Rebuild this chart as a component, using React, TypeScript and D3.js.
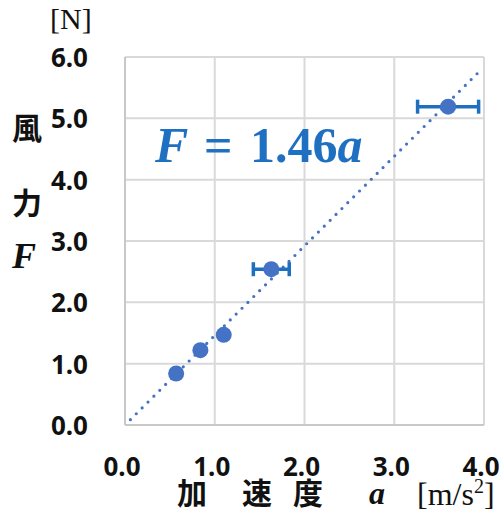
import * as d3 from 'd3';

// measured points: acceleration [m/s^2] vs wind force [N]
const accel = [0.57, 0.84, 1.10, 1.63, 3.60];
const force = [0.84, 1.22, 1.47, 2.54, 5.19];
const accelErr = [0, 0, 0, 0.2, 0.34];
const slope = 1.46;
const xTicks = [0, 1, 2, 3, 4];
const yTicks = [0, 1, 2, 3, 4, 5, 6];
const xLabelChars = ['加', '速', '度'];
const yLabelChars = ['風', '力'];

const W = 503;
const H = 516;
const plot = { left: 125, right: 484, top: 57, bottom: 425 };

const GRID = '#d9d9d9';
const MARKER = '#4472c4';
const ERR = '#1f6fbf';
const EQ = '#1f70c1';

export default function App() {
  const x = d3.scaleLinear().domain([0, 4]).range([plot.left, plot.right]);
  const y = d3.scaleLinear().domain([0, 6]).range([plot.bottom, plot.top]);

  const trend = d3.line<number>()
    .x(d => x(d))
    .y(d => y(slope * d));

  const tickFont = { fontFamily: '"Noto Sans", sans-serif', fontWeight: 700, fontSize: 26, fill: '#111' };
  const cjkFont = { fontFamily: '"Noto Sans CJK JP", sans-serif', fontWeight: 700, fontSize: 30, fill: '#111' };
  const serif = '"Liberation Serif", "Times New Roman", serif';

  return (
    <svg width={W} height={H} style={{ position: 'fixed', left: 0, top: 0, background: '#fff' }}>
      {/* grid */}
      {xTicks.map(t => (
        <line key={'gx' + t} x1={x(t)} x2={x(t)} y1={plot.top} y2={plot.bottom} stroke={GRID} strokeWidth={2} />
      ))}
      {yTicks.map(t => (
        <line key={'gy' + t} x1={plot.left} x2={plot.right} y1={y(t)} y2={y(t)} stroke={GRID} strokeWidth={2} />
      ))}
      <line x1={plot.left} x2={plot.left} y1={plot.top} y2={plot.bottom} stroke="#c8c8c8" strokeWidth={2} />
      <line x1={plot.left} x2={plot.right} y1={plot.bottom} y2={plot.bottom} stroke="#c8c8c8" strokeWidth={2} />

      {/* tick labels */}
      {yTicks.map(t => (
        <text key={'ty' + t} x={88} y={y(t)} textAnchor="end" dominantBaseline="central" {...tickFont}>
          {t.toFixed(1)}
        </text>
      ))}
      {xTicks.map(t => (
        <text key={'tx' + t} x={x(t) - 3} y={466} textAnchor="middle" dominantBaseline="central" {...tickFont}>
          {t.toFixed(1)}
        </text>
      ))}

      {/* trendline */}
      <path d={trend([0.06, 3.98]) || ''} fill="none" stroke={MARKER} strokeWidth={3.2}
        strokeLinecap="round" strokeDasharray="0 8.3" />

      {/* error bars */}
      {accel.map((a, i) => accelErr[i] > 0 && (
        <g key={'e' + i} stroke={ERR} strokeWidth={3.5}>
          <line x1={x(a - accelErr[i])} x2={x(a + accelErr[i])} y1={y(force[i])} y2={y(force[i])} />
          <line x1={x(a - accelErr[i])} x2={x(a - accelErr[i])} y1={y(force[i]) - 7} y2={y(force[i]) + 7} />
          <line x1={x(a + accelErr[i])} x2={x(a + accelErr[i])} y1={y(force[i]) - 7} y2={y(force[i]) + 7} />
        </g>
      ))}

      {/* points */}
      {accel.map((a, i) => (
        <circle key={'p' + i} cx={x(a)} cy={y(force[i])} r={8} fill={MARKER} />
      ))}

      {/* equation */}
      <text y={162} fontFamily={serif} fontWeight={700} fontSize={50} fill={EQ}>
        <tspan x={155} fontStyle="italic">F</tspan>
        <tspan x={204}>=</tspan>
        <tspan x={250}>1.46</tspan>
        <tspan fontStyle="italic">a</tspan>
      </text>

      {/* y axis label */}
      <text x={50} y={29} fontFamily={serif} fontSize={30} fill="#111">[N]</text>
      {yLabelChars.map((c, i) => (
        <text key={'yl' + i} x={27} y={139 + i * 75} textAnchor="middle" {...cjkFont}>{c}</text>
      ))}
      <text x={12} y={268} fontFamily={serif} fontStyle="italic" fontWeight={700} fontSize={36} fill="#111">F</text>

      {/* x axis label */}
      {xLabelChars.map((c, i) => (
        <text key={'xl' + i} x={[192, 257, 308][i]} y={504} textAnchor="middle" {...cjkFont}>{c}</text>
      ))}
      <text x={377} y={504} textAnchor="middle" fontFamily={serif} fontStyle="italic" fontWeight={700} fontSize={32} fill="#111">a</text>
      <text x={417} y={505} fontFamily={serif} fontSize={32} fill="#111">
        [m/s<tspan dy={-12} fontSize={20}>2</tspan><tspan dy={12}>]</tspan>
      </text>
    </svg>
  );
}
